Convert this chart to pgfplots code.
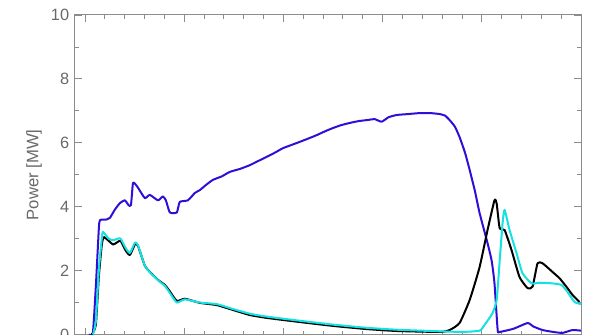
\documentclass[border=0pt]{standalone}
\usepackage{fontspec}
\setmainfont{Liberation Sans}
\usepackage{pgfplots}
\pgfplotsset{compat=1.18}
\definecolor{lblue}{RGB}{45,15,215}
\definecolor{lcyan}{RGB}{20,225,225}
\definecolor{axgray}{RGB}{140,140,140}
\definecolor{txtgray}{RGB}{105,105,105}
\begin{document}
\begin{tikzpicture}
\begin{axis}[
  scale only axis,
  width=303.6pt, height=191.7pt,
  xmin=-0.5, xmax=25, ymin=0, ymax=10,
  xtick={0,5,...,25}, minor x tick num=4,
  xticklabels={},
  ytick={0,2,...,10}, minor y tick num=1,
  tick align=inside,
  major tick length=4.2pt, minor tick length=2.4pt,
  axis line style={axgray, line width=0.6pt},
  every tick/.style={axgray, line width=0.5pt},
  tick label style={font=\fontsize{9.8}{11}\selectfont, text=txtgray},
  /pgf/number format/assume math mode=true,
  ylabel={Power [MW]},
  ylabel style={at={(axis description cs:-0.065,0.5)}, anchor=south, inner sep=0pt, font=\fontsize{10}{12}\selectfont, text=txtgray},
  every axis plot/.append style={smooth, tension=0.3, line width=1.2pt, line join=round},
  clip=true,
]
\coordinate (SW) at (rel axis cs:0,0);
\coordinate (NE) at (rel axis cs:1,1);
\addplot[lblue] coordinates {
(0.2,0) (0.40,0.05) (0.55,1.5) (0.70,3.3) (0.76,3.58) (1.1,3.6) (1.26,3.65) (1.5,3.9) (1.76,4.11) (2.01,4.2) (2.2,4.05) (2.32,4.05) (2.42,4.74) (2.52,4.72) (2.67,4.6) (3.02,4.27) (3.27,4.37) (3.68,4.2) (3.93,4.32) (4.08,4.2) (4.28,3.82) (4.63,3.82) (4.78,4.15) (5.19,4.2) (5.54,4.43) (5.79,4.52) (6.1,4.68) (6.45,4.84) (6.9,4.95) (7.30,5.09) (7.8,5.18) (8.31,5.3) (8.7,5.42) (9.16,5.56) (9.6,5.7) (9.97,5.83) (10.4,5.93) (10.83,6.03) (11.2,6.12) (11.68,6.24) (12.1,6.36) (12.49,6.46) (12.9,6.55) (13.34,6.62) (13.8,6.68) (14.20,6.71) (14.6,6.74) (14.95,6.66) (15.3,6.8) (15.71,6.87) (16.3,6.9) (16.87,6.93) (17.4,6.93) (17.88,6.9) (18.15,6.85) (18.38,6.71) (18.65,6.5) (18.88,6.18) (19.15,5.7) (19.39,5.15) (19.65,4.5) (19.89,3.8) (20.29,2.86) (20.5,2.3) (20.64,1.6) (20.80,0.14) (20.90,0.08) (21.6,0.18) (22.31,0.36) (22.6,0.25) (23.06,0.14) (23.6,0.08) (24.07,0.05) (24.57,0.14) (25,0.12)
};
\addplot[black] coordinates {
(0.35,0) (0.55,0.3) (0.70,1.8) (0.85,2.8) (0.96,3.05) (1.41,2.82) (1.66,2.9) (1.8,2.93) (2.06,2.62) (2.27,2.49) (2.52,2.82) (2.67,2.78) (3.02,2.15) (3.27,1.96) (3.68,1.71) (4.03,1.55) (4.28,1.35) (4.63,1.05) (5.04,1.12) (5.79,0.99) (6.65,0.92) (7.45,0.77) (8.31,0.61) (9.16,0.52) (10.83,0.39) (12.49,0.27) (14.20,0.17) (15.71,0.11) (17.88,0.08) (18.38,0.14) (18.88,0.36) (19.39,1.08) (19.89,2.11) (20.29,3.27) (20.64,4.2) (20.75,4.1) (20.90,3.33) (21.15,3.27) (21.50,2.64) (21.90,1.8) (22.31,1.45) (22.56,1.5) (22.81,2.23) (23.06,2.23) (23.56,1.96) (23.92,1.76) (24.27,1.49) (24.57,1.24) (24.92,1.02)
};
\addplot[lcyan] coordinates {
(0.40,0) (0.55,0.4) (0.70,2.0) (0.85,3.0) (0.91,3.21) (1.2,3.0) (1.41,2.95) (1.66,3.0) (1.8,3.0) (2.06,2.7) (2.27,2.55) (2.52,2.88) (2.67,2.8) (3.02,2.15) (3.27,1.95) (3.68,1.7) (4.03,1.52) (4.28,1.3) (4.63,1.0) (5.04,1.1) (5.79,1.0) (6.65,0.95) (7.45,0.8) (8.31,0.65) (9.16,0.56) (10.83,0.43) (12.49,0.31) (14.20,0.21) (15.71,0.15) (17.88,0.1) (19.03,0.08) (19.89,0.12) (20.14,0.3) (20.54,0.67) (20.75,1.08) (20.90,2.3) (21.05,3.5) (21.15,3.9) (21.40,3.27) (21.75,2.55) (22.05,1.92) (22.51,1.6) (22.91,1.62) (23.56,1.6) (24.02,1.55) (24.32,1.33) (24.67,1.02) (25,0.95)
};
\end{axis}
\pgfresetboundingbox
\path[use as bounding box] ([xshift=-45pt]SW) rectangle ([xshift=6.6pt,yshift=9pt]NE);
\end{tikzpicture}
\end{document}
